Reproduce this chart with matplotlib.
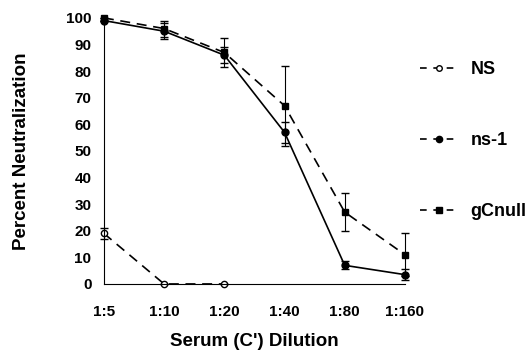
import numpy as np
import matplotlib.pyplot as plt
from matplotlib.lines import Line2D

plt.rcParams['font.family'] = ['Liberation Sans', 'DejaVu Sans']
plt.rcParams['font.weight'] = 'bold'

dilutions = ['1:5', '1:10', '1:20', '1:40', '1:80', '1:160']

ns_vals = [19, 0, 0]
ns_err = [2, 0, 0]

ns1_vals = [99, 95, 86, 57, 7, 3.5]
ns1_err = [0, 3, 3, 4, 1.5, 2]

gc_vals = [100, 96, 87, 67, 27, 11]
gc_err = [0, 3, 5.5, 15, 7, 8]

x = np.arange(len(dilutions))

fig = plt.figure(figsize=(5.3, 3.51), dpi=100)
ax = fig.add_axes([0.196, 0.191, 0.568, 0.758])

ax.errorbar(x[:3], ns_vals, yerr=ns_err, color='black', lw=1.2,
            dashes=(6, 4), marker='o', mfc='white', mec='black', ms=4.5,
            elinewidth=0.8, capsize=3)
ax.errorbar(x, ns1_vals, yerr=ns1_err, color='black', lw=1.2,
            marker='o', ms=5, elinewidth=0.8, capsize=3)
ax.errorbar(x, gc_vals, yerr=gc_err, color='black', lw=1.2,
            dashes=(6, 4), marker='s', ms=5, elinewidth=0.8, capsize=3)

for art in ax.lines + ax.collections:
    art.set_clip_on(False)

ax.set_xlim(0, 5)
ax.set_ylim(0, 100)
ax.set_xticks(x)
ax.set_xticklabels(dilutions)
ax.set_yticks(range(0, 101, 10))
ax.tick_params(axis='y', length=0, labelsize=11, pad=9)
ax.tick_params(axis='x', length=0, labelsize=11, pad=15)
ax.spines['top'].set_visible(False)
ax.spines['right'].set_visible(False)

ax.set_xlabel("Serum (C') Dilution", fontsize=13.5, fontweight='bold', labelpad=10)
ax.set_ylabel('Percent Neutralization', fontsize=13.5, fontweight='bold', labelpad=26)

handles = [
    Line2D([], [], color='black', lw=1.2, dashes=(4, 4), marker='o',
           mfc='white', mec='black', ms=4),
    Line2D([], [], color='black', lw=1.2, dashes=(4, 4), marker='o', ms=4.5),
    Line2D([], [], color='black', lw=1.2, dashes=(4, 4), marker='s', ms=4.5),
]
labels = ['NS', 'ns-1', 'gCnull']
fig.legend(handles, labels, loc='upper left', bbox_to_anchor=(0.792, 0.826),
           frameon=False, handlelength=2.1, handletextpad=0.7,
           labelspacing=3.0, borderpad=0, borderaxespad=0,
           prop={'weight': 'bold', 'size': 13})

fig.savefig('out.png', dpi=100)
